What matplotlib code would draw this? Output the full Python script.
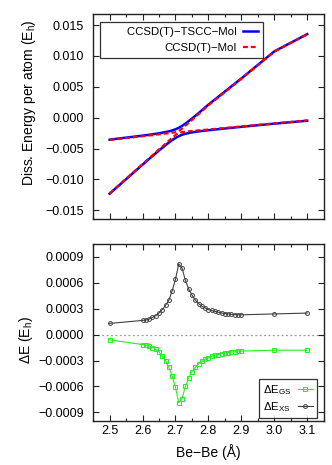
import matplotlib
matplotlib.use("Agg")
import matplotlib.pyplot as plt
from matplotlib.ticker import FuncFormatter, MultipleLocator, FixedLocator

plt.rcParams['font.family'] = ['Liberation Sans', 'DejaVu Sans']
plt.rcParams['mathtext.fontset'] = 'custom'
plt.rcParams['mathtext.rm'] = 'Liberation Sans'
plt.rcParams['mathtext.it'] = 'Liberation Sans:italic'
plt.rcParams['axes.unicode_minus'] = True

# ---------------- data ----------------
x_top = [2.5, 2.6, 2.62, 2.65, 2.68, 2.69, 2.70, 2.71, 2.72, 2.73, 2.75, 2.77, 2.8, 2.9, 3.0, 3.1]
tscc_gs = [-0.01230, -0.00760, -0.00667, -0.00530, -0.00401, -0.00362, -0.00328, -0.00299,
           -0.00276, -0.00260, -0.00237, -0.00221, -0.00202, -0.00147, -0.00096, -0.00048]
tscc_xs = [-0.00355, -0.00290, -0.00276, -0.00252, -0.00221, -0.00206, -0.00187, -0.00163,
           -0.00132, -0.00096, -0.00014, 0.00074, 0.00212, 0.00636, 0.01074, 0.01353]
moi_gs = [-0.01225, -0.00751, -0.00656, -0.00513, -0.00372, -0.00325, -0.00281, -0.00246,
          -0.00233, -0.00226, -0.00215, -0.00205, -0.00191, -0.00141, -0.00092, -0.00045]
moi_xs = [-0.00360, -0.00300, -0.00287, -0.00269, -0.00250, -0.00243, -0.00235, -0.00216,
          -0.00176, -0.00130, -0.00036, 0.00058, 0.00201, 0.00630, 0.01070, 0.01350]

x_diff = [2.5, 2.6, 2.61, 2.62, 2.63, 2.64, 2.65, 2.66, 2.67, 2.68, 2.69, 2.70, 2.71, 2.72,
          2.73, 2.74, 2.75, 2.76, 2.77, 2.78, 2.79, 2.80, 2.81, 2.82, 2.83, 2.84, 2.85, 2.86,
          2.87, 2.88, 2.89, 2.90, 3.0, 3.1]
dE_gs = [-0.00006, -0.000115, -0.00012, -0.00013, -0.00015, -0.00017, -0.00020, -0.00025,
         -0.00030, -0.00038, -0.00048, -0.00061, -0.00079, -0.00074, -0.00060, -0.00050,
         -0.00043, -0.00038, -0.00034, -0.00031, -0.00028, -0.00027, -0.00025, -0.00024,
         -0.00023, -0.00022, -0.00021, -0.00021, -0.00020, -0.00020, -0.00019, -0.00019,
         -0.00018, -0.00018]
dE_xs = [0.00013, 0.000165, 0.00017, 0.00018, 0.00020, 0.00022, 0.00025, 0.00029,
         0.00034, 0.00040, 0.00051, 0.00064, 0.00082, 0.00077, 0.00063, 0.00053,
         0.00046, 0.00040, 0.00036, 0.00033, 0.00031, 0.00029, 0.00028, 0.00027,
         0.00026, 0.00025, 0.000245, 0.00024, 0.000235, 0.000232, 0.00023, 0.00023,
         0.00024, 0.00025]

top_yticks = [-0.015, -0.010, -0.005, 0.000, 0.005, 0.010, 0.015]
bot_yticks = [-0.0009, -0.0006, -0.0003, 0.0, 0.0003, 0.0006, 0.0009]
xticks = [2.5, 2.6, 2.7, 2.8, 2.9, 3.0, 3.1]

# ---------------- figure ----------------
W, H = 332, 465
fig = plt.figure(figsize=(W / 100, H / 100), dpi=100)
L, R = 92.5, 324.3
ax1 = fig.add_axes([L / W, 1 - 219 / H, (R - L) / W, (219 - 14) / H])
ax2 = fig.add_axes([L / W, 1 - 421 / H, (R - L) / W, (421 - 244) / H])

blue = '#0000ff'
red = '#ff0000'

ax1.plot(x_top, tscc_gs, color=blue, lw=1.8, label='       CCSD(T)\u2212TSCC\u2212MoI', zorder=2)
ax1.plot(x_top, tscc_xs, color=blue, lw=1.8, zorder=2)
ax1.plot(x_top, moi_gs, color=red, lw=1.6, ls=(0, (2.2, 1.3)), label='CCSD(T)\u2212MoI', zorder=3)
ax1.plot(x_top, moi_xs, color=red, lw=1.6, ls=(0, (2.2, 1.3)), zorder=3)

green = '#22ee22'
gray = '#404040'
ax2.axhline(0, color='#999999', lw=0.9, ls=(0, (1.5, 2.0)), zorder=1)
ax2.plot(x_diff, dE_gs, color=green, lw=0.8, marker='s', ms=3.0, mfc='none', mec=green,
         mew=0.7, label='\u0394E$_{\\mathrm{GS}}$')
ax2.plot(x_diff, dE_xs, color=gray, lw=0.8, marker='o', ms=2.8, mfc='none', mec=gray,
         mew=0.7, label='\u0394E$_{\\mathrm{XS}}$')

fmt = lambda d: FuncFormatter(lambda v, p: ('%.*f' % (d, v)).replace('-', '\u2212')
                              if abs(v) > 1e-12 else '%.*f' % (d, 0.0))

for ax in (ax1, ax2):
    ax.set_xlim(2.448, 3.152)
    ax.xaxis.set_major_locator(FixedLocator(xticks))
    ax.xaxis.set_minor_locator(MultipleLocator(0.05))
    ax.tick_params(which='both', direction='in', top=True, right=True, color='#222222')
    ax.tick_params(which='major', length=4, width=0.8, labelsize=9)
    ax.tick_params(which='minor', length=2, width=0.8)
    ax.tick_params(axis='y', which='minor', left=False, right=False)
    ax.tick_params(axis='y', pad=6)
    ax.tick_params(axis='x', pad=3)
    for s in ax.spines.values():
        s.set_color('#222222')
        s.set_linewidth(1.0)

ax1.set_ylim(-0.0164, 0.0168)
ax1.yaxis.set_major_locator(FixedLocator(top_yticks))
ax1.yaxis.set_major_formatter(fmt(3))
ax1.tick_params(axis='x', labelbottom=False)
ax1.set_ylabel('Diss. Energy per atom (E$_{\\mathrm{h}}$)', fontsize=10)
ax1.yaxis.set_label_coords(-0.235, 0.57)

ax2.set_ylim(-0.001, 0.00105)
ax2.yaxis.set_major_locator(FixedLocator(bot_yticks))
ax2.yaxis.set_major_formatter(fmt(4))
ax2.xaxis.set_major_formatter(FuncFormatter(lambda v, p: '%.1f' % v))
ax2.set_ylabel('\u0394E (E$_{\\mathrm{h}}$)', fontsize=10)
ax2.yaxis.set_label_coords(-0.25, 0.46)
ax2.set_xlabel('Be\u2212Be (\u00c5)', fontsize=10)
ax2.xaxis.set_label_coords(0.5, -0.13)

leg1 = ax1.legend(loc='upper left', bbox_to_anchor=(0.032, 0.962), markerfirst=False,
                  fontsize=8.2, frameon=True, fancybox=False, handlelength=1.3,
                  borderaxespad=0, labelspacing=0.5, handletextpad=0.5, borderpad=0.45)
leg1.get_frame().set_edgecolor('black')
leg1.get_frame().set_linewidth(0.9)
leg1.get_frame().set_facecolor('white')

leg2 = ax2.legend(loc='lower right', bbox_to_anchor=(0.967, 0.017), markerfirst=False,
                  fontsize=8.2, frameon=True, fancybox=False, handlelength=1.3,
                  borderaxespad=0, labelspacing=0.3, handletextpad=0.6, borderpad=0.35)
leg2.get_frame().set_edgecolor('black')
leg2.get_frame().set_linewidth(0.9)
leg2.get_frame().set_facecolor('white')

fig.savefig('out.png', dpi=100)
